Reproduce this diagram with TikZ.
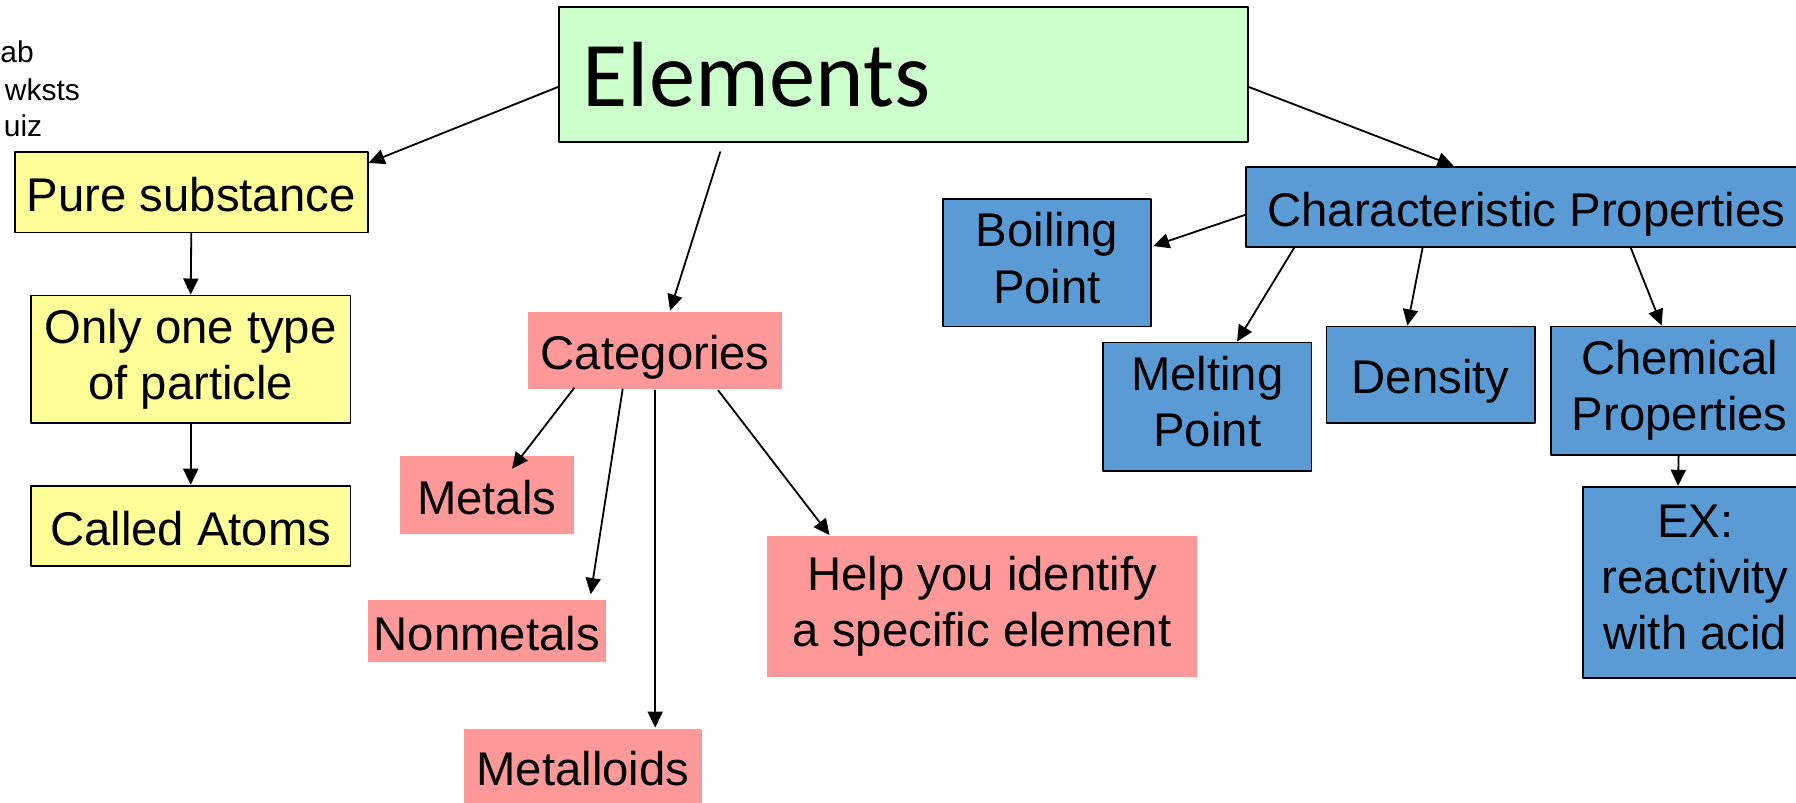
\documentclass[tikz,border=0pt]{standalone}
\usepackage{fontspec}
\setmainfont{Liberation Sans}
\newfontfamily\titlefont{Carlito}
\usetikzlibrary{arrows.meta}
\usetikzlibrary{calc}
\definecolor{mintgreen}{HTML}{CCFFCC}
\definecolor{paleyellow}{HTML}{FFFF99}
\definecolor{salmonpink}{HTML}{FF9999}
\definecolor{steelblue}{HTML}{5B9BD5}

\begin{document}
\begin{tikzpicture}[line cap=round,line join=round,>={Triangle[length=8pt,width=7.5pt]},x=0.02cm,y=-0.02cm,
		box/.style={draw=black,line width=0.9pt,inner sep=0pt,align=center,font=\fontsize{23.5}{27.9}\selectfont,
			execute at begin node={\rule{0pt}{24.3pt}},execute at end node={\rule[-5pt]{0pt}{5pt}}},
		twoline/.style={execute at begin node={\rule{0pt}{27pt}}},
		yellowbox/.style={box,fill=paleyellow},
		bluebox/.style={box,fill=steelblue},
		pinkbox/.style={box,draw=none,fill=salmonpink},
		note/.style={anchor=west,inner sep=0pt,font=\fontsize{14.9}{17}\selectfont},
		link/.style={->,line width=0.9pt}]
		\useasboundingbox (0,0) rectangle (1568,701);
		\clip (0,0) rectangle (1568,701);
		% notes in the corner
		\node[note] (noteab) at (0,45) {ab};
		\node[note] (notewk) at (4,78) {wksts};
		\node[note] (noteuiz) at (3,110) {uiz};
		% title
		\node[draw=black,line width=0.9pt,fill=mintgreen,anchor=west,inner sep=0pt,text width=11.2cm,inner xsep=0.42cm,minimum height=2.36cm,align=left,font=\titlefont\fontsize{46}{50}\selectfont] (el) at (487,65) {Elements};
		% left branch
		\node[yellowbox,minimum width=6.16cm,minimum height=1.40cm] (pure) at (167,168) {Pure substance};
		\node[yellowbox,twoline,minimum width=5.58cm,minimum height=2.22cm] (only) at (166.5,313.5) {Only one type\\of particle};
		\node[yellowbox,minimum width=5.58cm,minimum height=1.40cm] (called) at (166.5,459) {Called Atoms};
		% middle branch
		\node[pinkbox,minimum width=4.44cm,minimum height=1.36cm] (cat) at (572,306) {Categories};
		\node[pinkbox,minimum width=3.04cm,minimum height=1.36cm] (metals) at (425,432) {Metals};
		\node[pinkbox,minimum width=4.16cm,minimum height=1.08cm] (nonmet) at (425,551) {Nonmetals};
		\node[pinkbox,minimum width=4.16cm,minimum height=1.30cm] (metalloid) at (509,668.5) {Metalloids};
		\node[pinkbox,twoline,minimum width=7.50cm,minimum height=2.46cm] (help) at (857.5,529.5) {Help you identify\\a specific element};
		% right branch
		\node[bluebox,minimum width=9.78cm,minimum height=1.40cm] (char) at (1332.5,180.5) {Characteristic Properties};
		\node[bluebox,twoline,minimum width=3.64cm,minimum height=2.22cm] (boil) at (914,229.5) {Boiling\\Point};
		\node[bluebox,twoline,minimum width=3.64cm,minimum height=2.24cm] (melt) at (1054,355) {Melting\\Point};
		\node[bluebox,minimum width=3.64cm,minimum height=1.68cm] (dens) at (1249,327) {Density};
		\node[bluebox,twoline,minimum width=4.50cm,minimum height=2.24cm] (chem) at (1466.5,341) {Chemical\\Properties};
		\node[bluebox,twoline,minimum width=3.92cm,minimum height=3.34cm] (ex) at (1480,508.5) {EX:\\reactivity\\with acid};
		% arrows
		\draw[link] ($(el.west)+(0,11)$) -- ($(pure.north east)+(0,10)$);
		\draw[link] ($(el.south)+(-160,8)$) -- ($(cat.north)+(13,0)$);
		\draw[link] ($(el.east)+(0,11)$) -- ($(char.north)+(-63.5,0)$);
		\draw[link] (pure.south) -- (only.north);
		\draw[link] (only.south) -- (called.north);
		\draw[link] ($(cat.south west)+(41,-2)$) -- ($(metals.north)+(22,12)$);
		\draw[link] ($(cat.south)+(-28.4,-1)$) -- ($(nonmet.north)+(90.7,-4.5)$);
		\draw[link] (cat.south) -- ($(metalloid.north)+(63,0)$);
		\draw[link] ($(cat.south)+(55,0)$) -- ($(help.north west)+(55,0)$);
		\draw[link] ($(char.west)+(0,7)$) -- ($(boil.east)+(1,-14.7)$);
		\draw[link] ($(char.south west)+(42.6,0)$) -- ($(melt.north)+(26,0)$);
		\draw[link] ($(char.south)+(-90.5,0)$) -- ($(dens.north)+(-20.3,0)$);
		\draw[link] ($(char.south)+(91.2,0)$) -- ($(chem.north)+(-15.8,0)$);
		\draw[link] ($(chem.south)+(-1,0)$) -- ($(ex.north)+(-15,0)$);
\end{tikzpicture}
\end{document}
